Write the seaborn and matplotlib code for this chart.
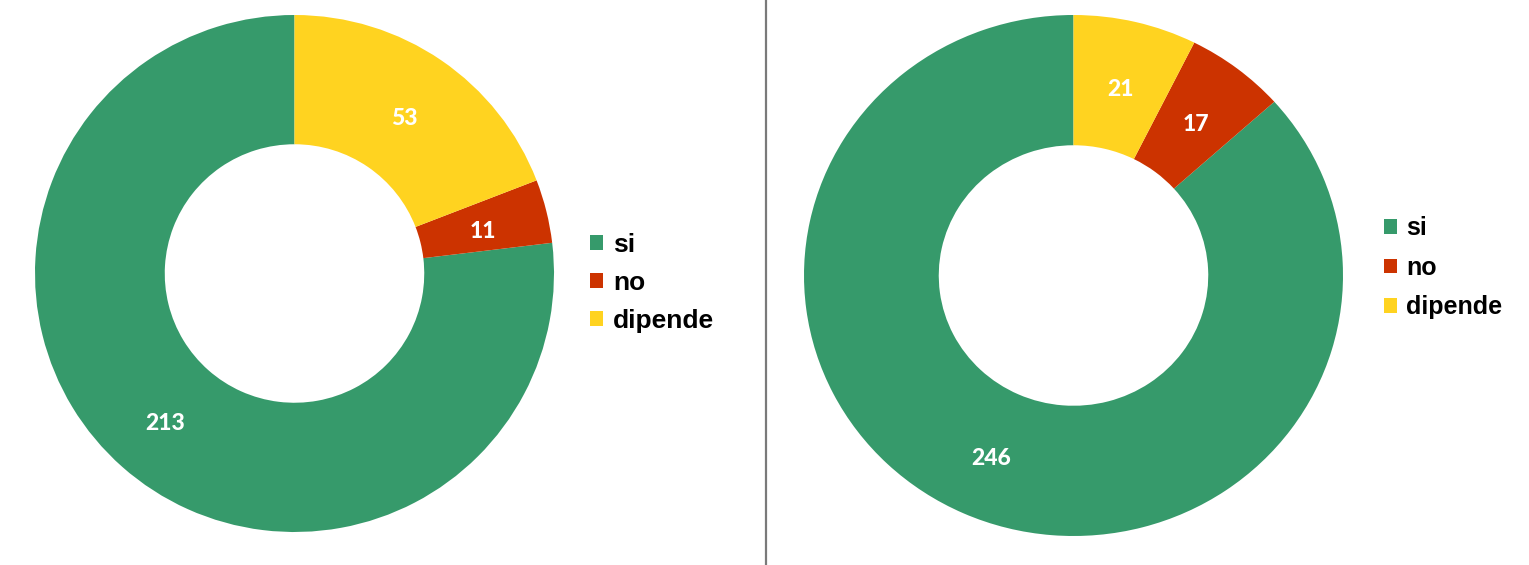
import matplotlib
matplotlib.use("Agg")
import matplotlib.pyplot as plt
import matplotlib.transforms as mtransforms
import seaborn as sns
from matplotlib.lines import Line2D

sns.set_theme(style="white")
plt.rcParams['font.family'] = ['Lato', 'DejaVu Sans']

categories = ["si", "no", "dipende"]
values_left = [213, 11, 53]
values_right = [246, 17, 21]
colors = ["#369A6B", "#CC3300", "#FFD320"]

W, H = 1529, 565
fig = plt.figure(figsize=(W / 100, H / 100), dpi=100)
fig.patch.set_facecolor("white")


def px_axes(x0, y0, x1, y1):
    return fig.add_axes([x0 / W, (H - y1) / H, (x1 - x0) / W, (y1 - y0) / H])


def donut(ax, vals):
    total = sum(vals)
    wedges, _, autotexts = ax.pie(
        vals, colors=colors, startangle=90, counterclock=True, radius=1.0,
        wedgeprops=dict(width=0.5, edgecolor="none"),
        autopct=lambda p: f"{round(p * total / 100)}", pctdistance=0.75,
        textprops=dict(color="white", fontweight="black", fontsize=16.5))
    for t in autotexts:
        t.set_transform(mtransforms.offset_copy(ax.transData, fig=fig, x=0, y=-4.5, units="dots"))
    ax.set_aspect("auto")
    ax.set_xlim(-1, 1)
    ax.set_ylim(-1, 1)
    ax.axis("off")
    return wedges


ax1 = px_axes(35, 15, 554, 532)
w1 = donut(ax1, values_left)
ax2 = px_axes(804, 15, 1343, 536)
w2 = donut(ax2, values_right)


def leg(handles, x, y, size, spacing):
    return fig.legend(handles, categories, bbox_to_anchor=(x / W, 1 - y / H),
                      frameon=False, loc="center left", handlelength=0.5, handleheight=0.5,
                      handletextpad=0.38, labelspacing=spacing, borderpad=0, borderaxespad=0,
                      prop=dict(family=["Liberation Sans", "DejaVu Sans"], weight="bold", size=size),
                      labelcolor="black")


leg(w1, 590, 283, 19, 0.52)
leg(w2, 1384, 268, 18, 0.62)

fig.add_artist(Line2D([766 / W, 766 / W], [0, 1], color="#7A7A7A", linewidth=1.6,
                      transform=fig.transFigure))

fig.savefig("out.png", dpi=100, facecolor="white")
